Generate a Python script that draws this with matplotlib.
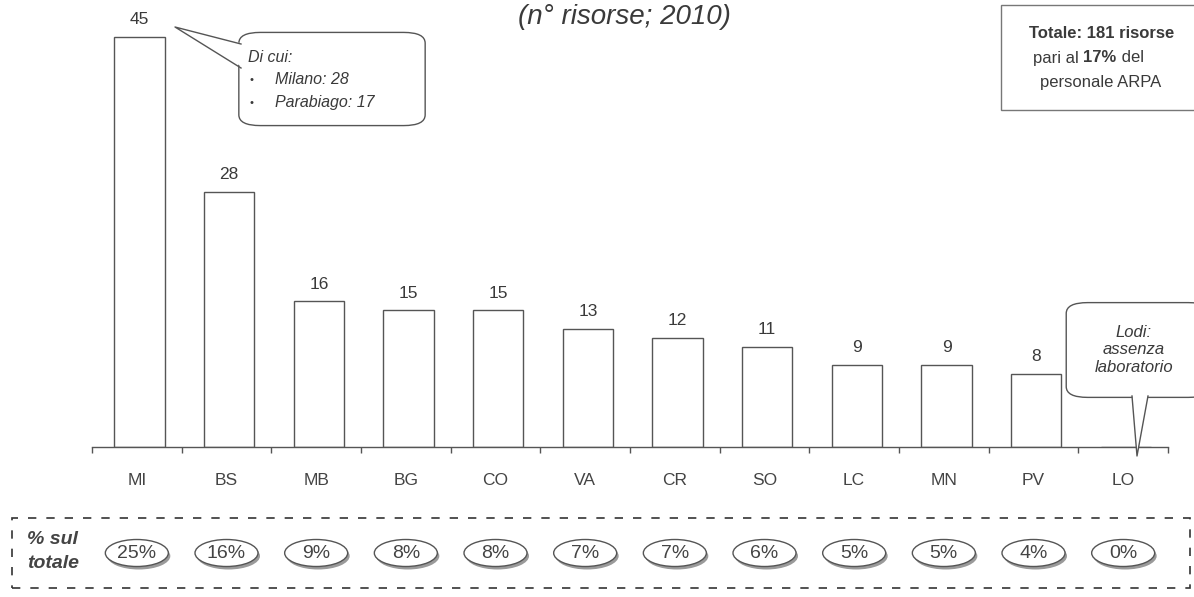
import matplotlib
matplotlib.use("Agg")
import matplotlib.pyplot as plt
from matplotlib.patches import FancyBboxPatch, Polygon, Ellipse, Rectangle
from matplotlib.text import Annotation
import numpy as np

plt.rcParams['font.family'] = ['Liberation Sans', 'DejaVu Sans']

categories = ["MI", "BS", "MB", "BG", "CO", "VA", "CR", "SO", "LC", "MN", "PV", "LO"]
values = [45, 28, 16, 15, 15, 13, 12, 11, 9, 9, 8, 0]
value_labels = ["45", "28", "16", "15", "15", "13", "12", "11", "9", "9", "8", ""]
pct_labels = ["25%", "16%", "9%", "8%", "8%", "7%", "7%", "6%", "5%", "5%", "4%", "0%"]
title_text = "(n° risorse; 2010)"
callout_mi = ["Di cui:", "Milano: 28", "Parabiago: 17"]
callout_lo = "Lodi:\nassenza\nlaboratorio"

W, H = 1194, 597
fig = plt.figure(figsize=(W / 100, H / 100), dpi=100)
TC = '#3a3a3a'
EC = '#555555'

def fx(x):
    return x / W

def fy(y):
    return 1 - y / H

# axes: baseline at y=447px, left 92px, right 1168px
ax_left, ax_right, ax_base = 92, 1168, 447
ymax = 48
px_per_unit = 9.11
ax_h = ymax * px_per_unit
ax = fig.add_axes([fx(ax_left), fy(ax_base), (ax_right - ax_left) / W, ax_h / H])
ax.set_xlim(0, len(categories))
ax.set_ylim(0, ymax)
x = np.arange(len(categories)) + 0.5
ax.bar(x + 0.03, values, width=0.56, facecolor='white', edgecolor=EC, linewidth=1.0)
for xi, v, lab in zip(x, values, value_labels):
    if lab:
        ax.annotate(lab, (xi + 0.03, v), xytext=(0, 7), textcoords='offset points',
                    ha='center', va='bottom', fontsize=12.5, color=TC)
for s in ['top', 'right', 'left']:
    ax.spines[s].set_visible(False)
ax.spines['bottom'].set_color(EC)
ax.spines['bottom'].set_linewidth(1.0)
ax.set_yticks([])
ax.set_xticks(np.arange(len(categories) + 1))
ax.set_xticklabels([])
ax.tick_params(axis='x', direction='out', length=4, color=EC, width=1)
for xi, c in zip(x, categories):
    ax.annotate(c, (xi, 0), xytext=(0, -24), textcoords='offset points',
                ha='center', va='center', fontsize=12.5, color='#444444')

# title (partially cut off at top)
fig.text(fx(624), fy(24), title_text, ha='center', va='baseline',
         fontsize=20, style='italic', color=TC)

# MI callout
box = FancyBboxPatch((fx(246), fy(122)), fx(418) - fx(246), fy(36) - fy(122),
                     boxstyle="round,pad=0.006,rounding_size=0.018",
                     transform=fig.transFigure, facecolor='white', edgecolor=EC,
                     linewidth=1.0, zorder=5)
fig.patches.append(box)
tri = [(fx(175), fy(27)), (fx(241), fy(44)), (fx(241), fy(68))]
fig.patches.append(Polygon([(fx(175), fy(27)), (fx(244), fy(44)), (fx(244), fy(68))],
                           closed=True, transform=fig.transFigure, facecolor='white',
                           edgecolor='none', zorder=6))
fig.lines.append(plt.Line2D([tri[1][0], tri[0][0], tri[2][0]],
                            [tri[1][1], tri[0][1], tri[2][1]],
                            transform=fig.transFigure, color=EC, lw=1.0, zorder=7))
fig.text(fx(248), fy(57), callout_mi[0], fontsize=11.5, style='italic', color=TC,
         va='center', zorder=8)
for i, t in enumerate(callout_mi[1:]):
    yy = 80 + 23 * i
    fig.text(fx(252), fy(yy), "•", fontsize=8, color=TC, va='center', ha='center', zorder=8)
    fig.text(fx(275), fy(yy), t, fontsize=11.5, style='italic', color=TC, va='center', zorder=8)

# LO callout
box2 = FancyBboxPatch((fx(1071), fy(395)), fx(1205) - fx(1071), fy(305) - fy(395),
                      boxstyle="round,pad=0.004,rounding_size=0.018",
                      transform=fig.transFigure, facecolor='white', edgecolor=EC,
                      linewidth=1.0, zorder=5)
fig.patches.append(box2)
t2 = [(fx(1132), fy(396)), (fx(1137), fy(456)), (fx(1148), fy(396))]
fig.patches.append(Polygon([(fx(1132), fy(393)), (fx(1137), fy(456)), (fx(1148), fy(393))],
                           closed=True, transform=fig.transFigure, facecolor='white',
                           edgecolor='none', zorder=6))
fig.lines.append(plt.Line2D([p[0] for p in t2], [p[1] for p in t2],
                            transform=fig.transFigure, color=EC, lw=1.0, zorder=7))
fig.text(fx(1134), fy(350), callout_lo, fontsize=12, style='italic', color=TC,
         ha='center', va='center', linespacing=1.2, zorder=8)

# Totale box
fig.patches.append(Rectangle((fx(1001), fy(110)), fx(1200) - fx(1001), fy(5) - fy(110),
                             transform=fig.transFigure, facecolor='white',
                             edgecolor='#777777', linewidth=1.0, zorder=3))
fig.text(fx(1102), fy(34), "Totale: 181 risorse", fontsize=12, weight='bold',
         color=TC, ha='center', va='center', zorder=4)
t_a = fig.text(fx(1033), fy(58), "pari al ", fontsize=12, color=TC, ha='left',
               va='center', zorder=4)
t_b = Annotation("17%", xy=(1, 0), xycoords=t_a, fontsize=12, weight='bold',
                 color=TC, ha='left', va='bottom', zorder=4)
fig.add_artist(t_b)
t_c = Annotation(" del", xy=(1, 0), xycoords=t_b, fontsize=12, color=TC, ha='left',
                 va='bottom', zorder=4)
fig.add_artist(t_c)
fig.text(fx(1101), fy(82), "personale ARPA", fontsize=12, color=TC, ha='center',
         va='center', zorder=4)

# bottom dashed box with percentages
fig.patches.append(Rectangle((fx(12), fy(588)), fx(1190) - fx(12), fy(518) - fy(588),
                             transform=fig.transFigure, facecolor='none',
                             edgecolor='#333333', linewidth=1.2,
                             linestyle=(0, (5, 6)), zorder=3))
fig.text(fx(27), fy(540), "% sul", fontsize=14, style='italic', weight='bold',
         color='#444444', va='center', ha='left')
fig.text(fx(27), fy(564), "totale", fontsize=14, style='italic', weight='bold',
         color='#444444', va='center', ha='left')
for xi, p in zip(x, pct_labels):
    cx = ax_left + xi * (ax_right - ax_left) / len(categories)
    sh = Ellipse((fx(cx + 2), fy(556)), 63 / W, 27 / H, transform=fig.transFigure,
                 facecolor='#9a9a9a', edgecolor='none', zorder=4)
    el = Ellipse((fx(cx), fy(553)), 63 / W, 27 / H, transform=fig.transFigure,
                 facecolor='white', edgecolor='#555555', linewidth=1.0, zorder=5)
    fig.patches.append(sh)
    fig.patches.append(el)
    fig.text(fx(cx), fy(553), p, fontsize=14, color='#444444', ha='center',
             va='center', zorder=6)

fig.savefig("out.png", dpi=100, facecolor='white')
